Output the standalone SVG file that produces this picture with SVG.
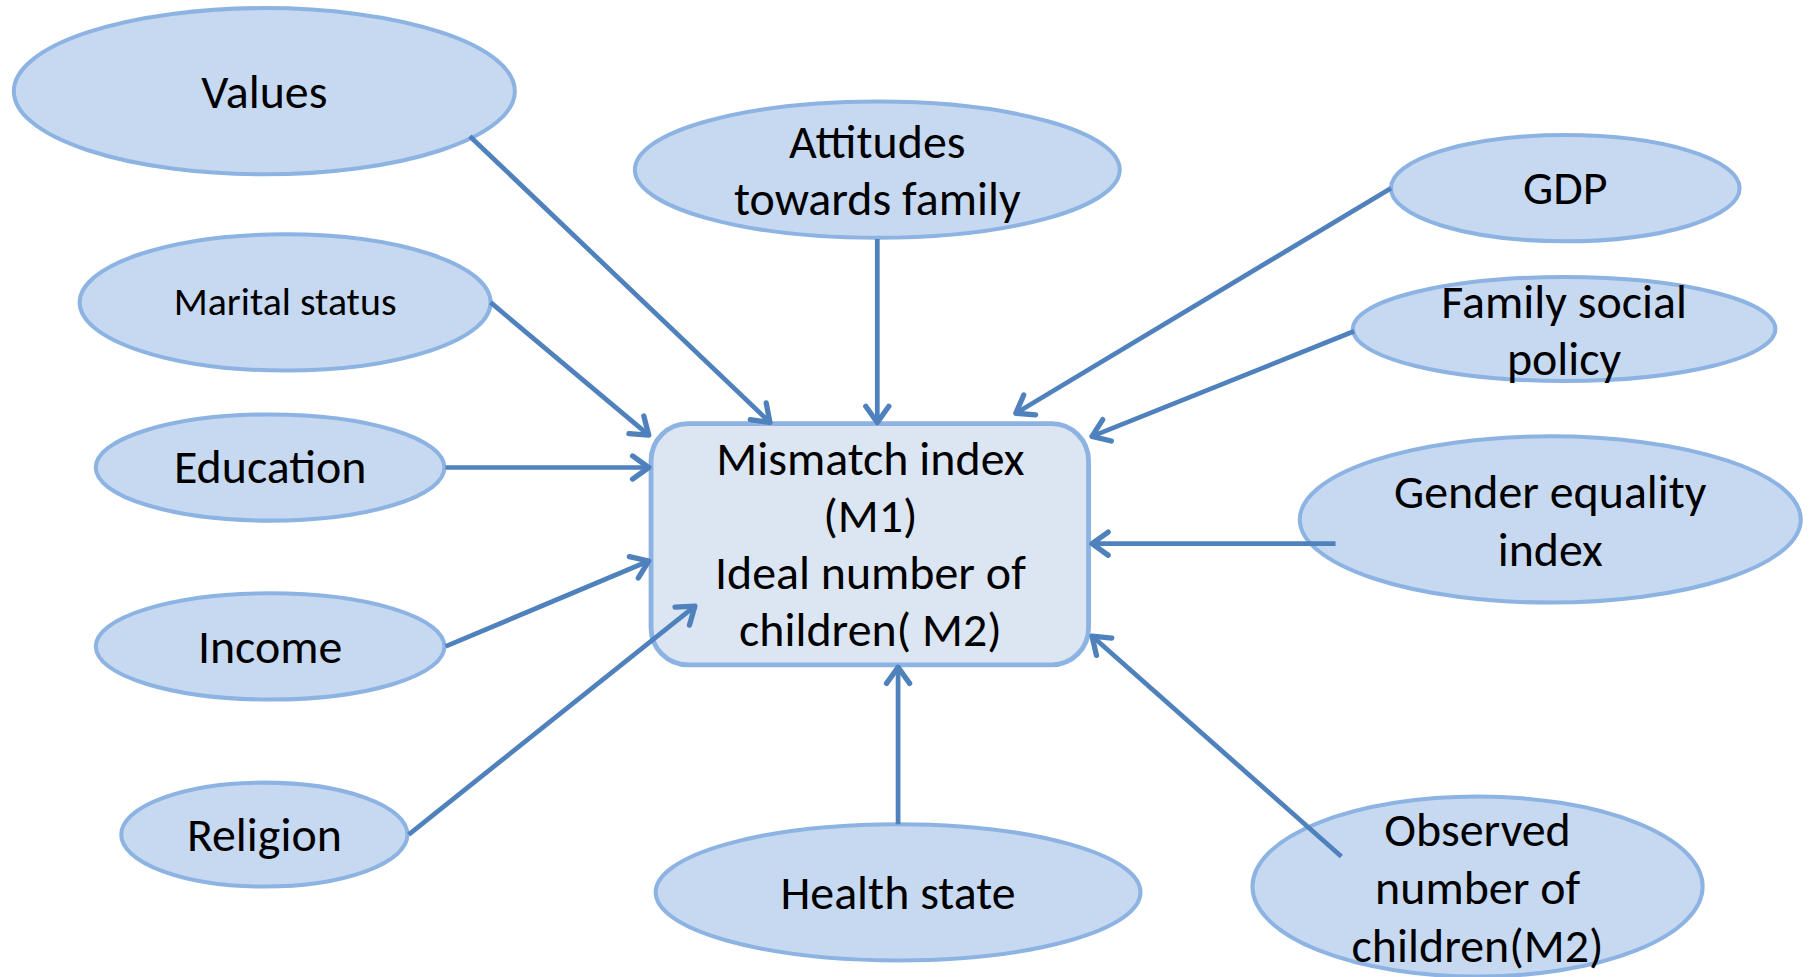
<svg xmlns="http://www.w3.org/2000/svg" width="1810" height="977" viewBox="0 0 1810 977">
<style>
.node ellipse{fill:#c6d9f1;stroke:#8db3e2;stroke-width:3.5}
.center rect{fill:#dce6f2;stroke:#8db3e2;stroke-width:4.2}
text{font-family:Carlito,Calibri,"Open Sans",sans-serif;font-size:41.5px;fill:#000;text-anchor:middle;dominant-baseline:central}
.small{font-size:34.5px}
.conn line{stroke:#4f81bd;stroke-width:4.1;marker-end:url(#arr)}
</style>
<defs>
<marker id="arr" markerUnits="userSpaceOnUse" viewBox="-22 -16 32 32" refX="0" refY="0" markerWidth="32" markerHeight="32" orient="auto">
<path d="M-14,-10 L0,0 L-14,10" fill="none" stroke="#4f81bd" stroke-width="4.6" stroke-linecap="round" stroke-linejoin="round"/>
</marker>
</defs>
<rect width="1810" height="977" fill="#fff"/>
<g transform="scale(1.15434)">
<g id="values" class="node"><ellipse cx="229" cy="79" rx="217" ry="72"/><text x="229" y="79">Values</text></g>
<g id="attitudes" class="node"><ellipse cx="760" cy="147" rx="210" ry="59"/><text x="760" y="123">Attitudes</text><text x="760" y="172">towards family</text></g>
<g id="gdp" class="node"><ellipse cx="1356" cy="163" rx="151" ry="46"/><text x="1356" y="162">GDP</text></g>
<g id="marital" class="node"><ellipse cx="247" cy="262" rx="178" ry="59"/><text class="small" x="247" y="261">Marital status</text></g>
<g id="familypolicy" class="node"><ellipse cx="1355" cy="285" rx="183" ry="45"/><text x="1355" y="261">Family social</text><text x="1355" y="311">policy</text></g>
<g id="education" class="node"><ellipse cx="234" cy="405" rx="151" ry="46"/><text x="234" y="404">Education</text></g>
<g id="gender" class="node"><ellipse cx="1343" cy="450" rx="217" ry="72"/><text x="1343" y="426">Gender equality</text><text x="1343" y="476">index</text></g>
<g id="income" class="node"><ellipse cx="234" cy="560" rx="151" ry="46"/><text x="234" y="560">Income</text></g>
<g id="religion" class="node"><ellipse cx="229" cy="723" rx="124" ry="45"/><text x="229" y="723">Religion</text></g>
<g id="health" class="node"><ellipse cx="778" cy="773" rx="210" ry="59"/><text x="778" y="773">Health state</text></g>
<g id="observed" class="node"><ellipse cx="1280" cy="768" rx="195" ry="78"/><text x="1280" y="719">Observed</text><text x="1280" y="769">number of</text><text x="1280" y="819">children(M2)</text></g>
<g id="mismatch" class="center"><rect x="564" y="367" width="379" height="209" rx="32"/><text x="754" y="397">Mismatch index</text><text x="754" y="447">(M1)</text><text x="754" y="496">Ideal number of</text><text x="754" y="545">children( M2)</text></g>
<g id="connectors" class="conn">
<line x1="407" y1="118" x2="667" y2="366"/>
<line x1="760" y1="207" x2="760" y2="366"/>
<line x1="1205" y1="163" x2="880" y2="358"/>
<line x1="425" y1="262" x2="562" y2="377"/>
<line x1="1173" y1="287" x2="946" y2="378"/>
<line x1="386" y1="405" x2="562" y2="405"/>
<line x1="1157" y1="471" x2="946" y2="471"/>
<line x1="386" y1="560" x2="562" y2="486"/>
<line x1="354" y1="723" x2="602" y2="525"/>
<line x1="778" y1="714" x2="778" y2="578"/>
<line x1="1162" y1="742" x2="946" y2="551"/>
</g>
</g>
</svg>
